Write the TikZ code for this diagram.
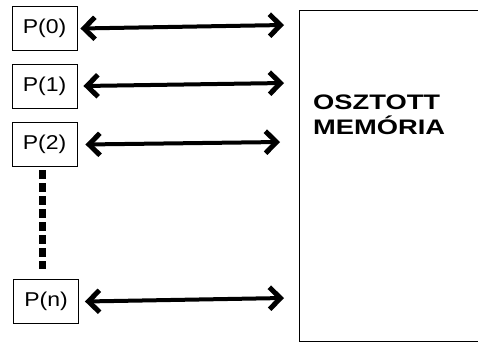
\documentclass[tikz,border=0pt]{standalone}
\usepackage{fontspec}
\setmainfont{Liberation Sans}
\usetikzlibrary{arrows.meta}
\newcommand{\widetext}[2][1.3]{\scalebox{#1}[1]{#2}}
\begin{document}
\begin{tikzpicture}[x=1pt,y=-1pt,
  procbox/.style={draw,line width=0.9pt,minimum width=65pt,minimum height=44pt,inner sep=0pt,font=\fontsize{20}{22}\selectfont},
  barb/.tip={Straight Barb[length=11pt,width=22pt,line width=5pt]},
  link/.style={line width=4pt,barb-barb},
  dotline/.style={line width=7pt,dash pattern=on 9pt off 4pt}]
  \useasboundingbox (0,0) rectangle (478,343);
  % shared memory block (runs past the right edge)
  \draw[line width=1pt] (490,10) -- (299,10) -- (299,341) -- (490,341);
  \node[anchor=north west,align=left,font=\fontsize{21}{25}\selectfont\bfseries,inner sep=0pt] (mem) at (313,95) {\widetext{OSZTOTT}\\\widetext{MEMÓRIA}};
  \coordinate (m0) at (284,25);
  \coordinate (m1) at (284,83);
  \coordinate (m2) at (280,142);
  \coordinate (mn) at (284,298);
  % processors
  \node[procbox] (p0) at (44.5,28.5) {\widetext[1.15]{P(0)}};
  \node[procbox] (p1) at (44.5,86) {\widetext[1.15]{P(1)}};
  \node[procbox] (p2) at (44.5,144.5) {\widetext[1.15]{P(2)}};
  \node[procbox] (pn) at (46,301.5) {\widetext[1.15]{P(n)}};
  \draw[link] ([xshift=3pt]p0.east) -- (m0);
  \draw[link] ([xshift=6pt]p1.east) -- (m1);
  \draw[link] ([xshift=8pt]p2.east) -- (m2);
  \draw[link] ([xshift=6pt]pn.east) -- (mn);
  % ellipsis between P(2) and P(n)
  \draw[dotline] (42,170) -- (42,269);
\end{tikzpicture}
\end{document}
